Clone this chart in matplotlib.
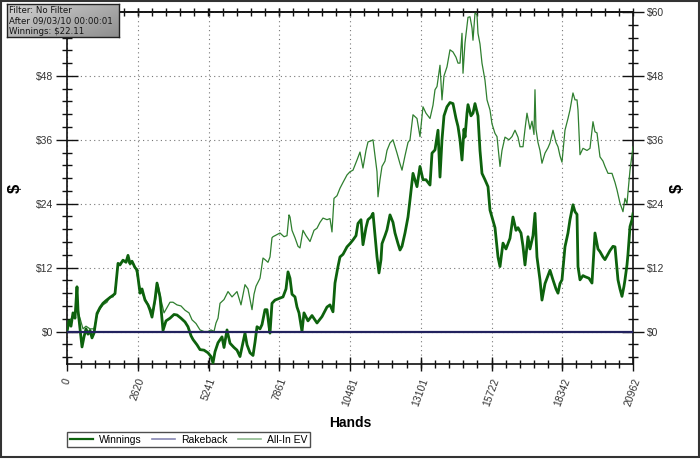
import numpy as np
import matplotlib
matplotlib.use("Agg")
import matplotlib.pyplot as plt
from matplotlib.ticker import FixedLocator, MultipleLocator, FuncFormatter, NullFormatter
from matplotlib.lines import Line2D
from matplotlib.patches import Rectangle
from matplotlib.colors import LinearSegmentedColormap

plt.rcParams['font.family'] = ['Liberation Sans', 'DejaVu Sans']

# ---------------- data ----------------
x_ticks = [0, 2620, 5241, 7861, 10481, 13101, 15722, 18342, 20962]
y_ticks = [0, 12, 24, 36, 48, 60]

win_hands = [0, 74, 148, 222, 296, 370, 407, 481, 556, 630, 704, 778, 852, 926, 1000,
             1111, 1222, 1333, 1444, 1593, 1704, 1778, 1889, 1963, 2074, 2185, 2259, 2333,
             2407, 2519, 2593, 2704, 2778, 2889, 3000, 3074, 3148, 3259, 3333, 3444, 3556,
             3667, 3815, 3963, 4074, 4222, 4370, 4481, 4593, 4667, 4815, 4926, 5074, 5222,
             5333, 5407, 5481, 5593, 5741, 5815, 5926, 6037, 6185, 6296, 6407, 6518, 6592,
             6667, 6778, 6889, 6963, 7037, 7148, 7222, 7333, 7407, 7481, 7518, 7592, 7703,
             7851, 8000, 8111, 8185, 8259, 8333, 8444, 8518, 8592, 8703, 8777, 8925, 9074,
             9259, 9444, 9629, 9740, 9851, 9925, 10036, 10110, 10222, 10370, 10481, 10592,
             10703, 10777, 10888, 10962, 11073, 11147, 11259, 11333, 11407, 11481, 11555,
             11629, 11666, 11777, 11851, 11962, 12073, 12147, 12259, 12333, 12407, 12518,
             12629, 12703, 12814, 12962, 13073, 13184, 13295, 13444, 13518, 13629, 13740,
             13814, 13888, 13962, 14073, 14184, 14295, 14407, 14481, 14555, 14629, 14703,
             14740, 14814, 14851, 14962, 15036, 15110, 15221, 15295, 15369, 15480, 15592,
             15666, 15740, 15851, 15962, 16036, 16147, 16258, 16406, 16517, 16629, 16703,
             16814, 16888, 16962, 17073, 17147, 17258, 17332, 17406, 17517, 17591, 17703,
             17814, 17888, 17999, 18110, 18184, 18258, 18332, 18443, 18554, 18628, 18739,
             18814, 18888, 18925, 18999, 19110, 19184, 19332, 19443, 19554, 19665, 19739,
             19850, 19924, 20036, 20110, 20221, 20295, 20406, 20480, 20554, 20628, 20665,
             20739, 20776, 20851, 20925, 20962]
winnings = [0.0, 2.0, 1.0, 3.5, 2.5, 8.4, 4.0, 0.5, -2.9, -1.0, 0.5, -0.5, 0.2, -1.2, -0.3,
            3.4, 4.5, 5.3, 5.8, 6.4, 6.8, 7.1, 12.8, 12.5, 13.4, 13.0, 14.3, 12.8,
            13.2, 12.0, 11.6, 7.2, 8.0, 5.9, 5.0, 4.0, 2.7, 6.0, 9.1, 6.5, 0.2,
            2.0, 2.5, 3.2, 3.1, 2.5, 1.8, 0.9, -0.8, -1.5, -2.5, -3.4, -3.5, -4.0,
            -4.7, -5.9, -3.8, -2.1, -1.0, -3.0, 0.3, -2.2, -3.0, -3.5, -4.7, -2.0, -0.3,
            -2.5, -4.0, -4.5, -2.0, 0.9, 0.5, 1.3, 4.1, 4.1, 1.0, -0.3, 5.3, 5.9,
            6.2, 6.5, 8.0, 11.2, 10.0, 7.0, 6.5, 4.6, 3.5, 0.0, 3.5, 2.0, 3.0,
            1.6, 2.8, 4.6, 5.0, 3.7, 9.1, 12.2, 14.0, 14.5, 15.9, 16.5, 17.2,
            18.0, 20.3, 21.0, 16.3, 19.5, 21.0, 21.5, 22.2, 18.0, 14.0, 11.0,
            13.5, 16.5, 18.0, 19.1, 21.9, 20.5, 18.5, 16.5, 15.3, 16.0, 18.5,
            21.5, 24.7, 29.7, 27.2, 31.0, 28.5, 28.5, 27.5, 33.5, 34.1, 37.8,
            29.0, 36.0, 40.5, 42.2, 43.0, 42.8, 40.0, 38.5, 36.0, 32.2, 38.0,
            36.5, 41.0, 42.6, 40.5, 41.0, 42.8, 40.5, 34.0, 29.7, 28.5, 27.2,
            22.8, 21.5, 19.5, 14.0, 12.2, 16.6, 15.5, 17.5, 21.5, 19.0, 19.5,
            18.5, 16.0, 12.5, 17.8, 15.5, 18.0, 22.2, 14.0, 9.7, 5.9, 9.0,
            10.5, 11.5, 9.7, 8.0, 7.2, 9.0, 9.7, 15.9, 18.5, 21.0, 23.8,
            22.5, 22.0, 12.2, 9.7, 10.5, 10.3, 10.0, 9.1, 18.5, 15.5, 15.0,
            14.0, 13.5, 14.5, 15.2, 16.0, 15.9, 9.7, 8.0, 6.6, 8.5, 9.7,
            12.5, 14.5, 19.7, 21.0, 22.11]

ev_hands = [0, 111, 222, 333, 407, 481, 593, 704, 852, 1000, 1111, 1222, 1333, 1481, 1593,
            1704, 1778, 1889, 2000, 2111, 2222, 2333, 2444, 2556, 2667, 2741, 2852, 2963,
            3074, 3185, 3296, 3370, 3481, 3593, 3704, 3815, 3926, 4074, 4222, 4370, 4518,
            4630, 4778, 4926, 5074, 5222, 5333, 5444, 5518, 5593, 5667, 5815, 5963, 6111,
            6296, 6444, 6592, 6703, 6778, 6852, 6926, 7000, 7148, 7259, 7333, 7444, 7518,
            7592, 7629, 7777, 7888, 8037, 8148, 8222, 8259, 8333, 8444, 8555, 8629, 8740,
            8851, 9000, 9148, 9259, 9370, 9481, 9629, 9740, 9814, 9888, 10000, 10110, 10222,
            10370, 10481, 10592, 10740, 10851, 10962, 11073, 11147, 11259, 11333, 11407,
            11481, 11518, 11592, 11666, 11777, 11851, 11962, 12073, 12222, 12333, 12407,
            12518, 12629, 12703, 12814, 12962, 13073, 13184, 13295, 13444, 13555, 13629,
            13703, 13814, 13888, 13962, 14073, 14184, 14295, 14407, 14481, 14555, 14629,
            14666, 14740, 14851, 14925, 15000, 15036, 15110, 15184, 15221, 15295, 15369,
            15480, 15555, 15666, 15740, 15851, 15925, 16036, 16110, 16221, 16369, 16480,
            16592, 16703, 16777, 16888, 16962, 17036, 17147, 17221, 17295, 17332, 17369,
            17443, 17517, 17591, 17703, 17814, 17888, 17999, 18110, 18184, 18258, 18332,
            18443, 18554, 18628, 18739, 18814, 18888, 18925, 18999, 19110, 19258, 19369,
            19480, 19554, 19628, 19739, 19850, 19924, 20036, 20184, 20295, 20369, 20480,
            20591, 20665, 20739, 20851, 20962]
all_in_ev = [0.0, 2.0, 3.0, 4.0, 3.5, 2.5, 0.5, 1.0, 0.5, 0.5, 3.0, 4.2, 5.0, 5.5, 6.5,
             6.5, 7.5, 12.5, 13.0, 13.2, 13.5, 12.5, 13.0, 11.5, 9.0, 7.5, 6.5, 5.5,
             4.5, 3.5, 6.5, 8.8, 6.0, 3.5, 4.5, 5.5, 5.5, 5.0, 4.8, 4.0, 3.5,
             2.2, 1.5, 0.3, 0.0, 0.0, 0.3, 0.0, 1.6, 2.5, 5.3, 6.0, 7.5, 6.5,
             7.5, 5.0, 8.8, 8.0, 6.0, 4.1, 7.0, 8.5, 10.0, 13.8, 13.5, 13.0, 14.0,
             17.6, 17.8, 18.2, 18.5, 17.8, 18.0, 21.9, 21.5, 19.0, 17.6, 16.0, 15.7, 19.0,
             18.0, 16.9, 19.0, 19.4, 20.5, 21.3, 21.0, 21.2, 18.7, 25.0, 25.5, 26.9, 28.0,
             29.4, 30.0, 30.3, 32.2, 33.7, 30.7, 34.0, 35.6, 35.8, 36.0, 33.0,
             30.0, 25.3, 28.5, 31.0, 32.0, 34.0, 35.4, 36.0, 33.5, 31.5, 30.3,
             33.0, 35.5, 36.0, 40.7, 40.0, 36.6, 42.2, 41.0, 40.0, 42.5, 45.4,
             46.0, 50.0, 43.5, 48.0, 49.7, 52.9, 52.5, 51.5, 50.4, 50.4, 56.0,
             48.5, 54.2, 59.0, 59.1, 57.0, 54.7, 59.8, 59.5, 56.0, 54.0, 50.4,
             47.2, 43.5, 41.6, 39.0, 37.2, 36.6, 31.0, 34.0, 36.5, 36.0, 36.6,
             37.8, 36.5, 34.7, 34.7, 38.0, 41.0, 38.0, 39.5, 37.0, 45.4, 38.0,
             35.5, 34.0, 31.6, 33.5, 34.5, 35.4, 37.8, 35.5, 34.7, 33.0, 31.8,
             37.8, 40.0, 41.6, 44.8, 43.5, 43.5, 41.6, 33.2, 34.4, 34.0, 34.4,
             39.4, 37.5, 37.3, 32.8, 32.0, 31.0, 29.7, 29.7, 28.0, 26.6, 24.1,
             22.5, 25.0, 24.0, 30.3, 34.7]

rake_hands = [0, 20962]
rakeback = [0.0, 0.0]

info_lines = ["Filter: No Filter", "After 09/03/10 00:00:01", "Winnings: $22.11"]
series_names = ["Winnings", "Rakeback", "All-In EV"]

# ---------------- figure ----------------
W, H = 700, 459
fig = plt.figure(figsize=(W / 100, H / 100), dpi=100, facecolor='white')
ax = fig.add_axes([67 / W, 1 - 364 / H, 566 / W, 352 / H])

win_color = '#0d620d'
ev_color = '#2f7f2f'
rake_color = '#22225e'

ax.plot(ev_hands, all_in_ev, color=ev_color, lw=0.9, zorder=3)
ax.plot(win_hands, winnings, color=win_color, lw=2.0, zorder=4)
ax.plot(rake_hands, rakeback, color=rake_color, lw=1.6, zorder=5)

ax.set_xlim(0, 20962)
ax.set_ylim(-6.1, 60)

ax.xaxis.set_major_locator(FixedLocator(x_ticks))
ax.xaxis.set_minor_locator(MultipleLocator(20962 / 40))
ax.yaxis.set_major_locator(FixedLocator(y_ticks))
ax.yaxis.set_minor_locator(MultipleLocator(2.4))
ax.yaxis.set_major_formatter(FuncFormatter(lambda v, p: f"${v:.0f}"))
ax.set_xticklabels([str(t) for t in x_ticks], rotation=70, ha='center', va='top',
                   fontsize=7.5, color='#333333')

ax.tick_params(axis='y', which='major', direction='inout', length=16, width=1,
               color='#111111', labelsize=7.5, labelcolor='#333333', pad=2)
ax.tick_params(axis='y', which='minor', direction='inout', length=7, width=1,
               color='#111111')
ax.tick_params(axis='x', which='major', direction='inout', length=10, width=1,
               color='#111111', labelsize=7.5, labelcolor='#333333', pad=4)
ax.tick_params(axis='x', which='minor', direction='inout', length=6, width=1,
               color='#111111')
ax.tick_params(axis='y', which='both', left=True, right=True, labelleft=True, labelright=True)
ax.tick_params(axis='x', which='both', bottom=True, top=False)

# top axis: short ticks only
top = ax.secondary_xaxis('top')
top.xaxis.set_major_locator(FixedLocator(x_ticks))
top.xaxis.set_minor_locator(MultipleLocator(20962 / 40))
top.xaxis.set_major_formatter(NullFormatter())
top.tick_params(axis='x', which='both', direction='inout', length=6, width=1,
                color='#111111')
top.spines['top'].set_linewidth(1.2)
top.spines['top'].set_color('#111111')

# hide the left $60 label (covered by the info box in the original)
fig.canvas.draw()
for tk in ax.yaxis.get_major_ticks():
    if abs(tk.get_loc() - 60) < 1e-6:
        tk.label1.set_visible(False)

for s in ax.spines.values():
    s.set_color('#111111')
    s.set_linewidth(1.2)

ax.grid(True, which='major', linestyle=(0, (1, 3)), color='#777777', lw=0.8)

ax.set_xlabel('Hands', fontsize=10, fontweight='bold', labelpad=6)
fig.text(15 / W, 1 - 188 / H, '$', rotation=90, fontsize=12, fontweight='bold',
         ha='center', va='center')
fig.text(677 / W, 1 - 188 / H, '$', rotation=90, fontsize=12, fontweight='bold',
         ha='center', va='center')

# legend
handles = [Line2D([], [], color=win_color, lw=1.6),
           Line2D([], [], color='#8888b4', lw=1.2),
           Line2D([], [], color='#8fba8f', lw=1.2)]
leg = fig.legend(handles, series_names, loc='upper left',
                 bbox_to_anchor=(67 / W, 1 - 432 / H), ncol=3, fontsize=7.5,
                 frameon=True, fancybox=False, edgecolor='#222222', borderpad=0.25,
                 handlelength=2.2, handletextpad=0.6, columnspacing=1.0, borderaxespad=0)
leg.get_frame().set_linewidth(1.0)

# info box with gradient
bax = fig.add_axes([7 / W, 1 - 37 / H, 112 / W, 33 / H], zorder=10)
gx, gy = np.meshgrid(np.linspace(0, 1, 64), np.linspace(0, 1, 32))
grad = 0.6 * gx + 0.4 * gy
box_cmap = LinearSegmentedColormap.from_list('box', ['#d2d2d2', '#8e8e8e'])
bax.imshow(grad, cmap=box_cmap, vmin=0, vmax=1, aspect='auto',
           extent=[0, 1, 0, 1], origin='upper')
bax.set_xlim(0, 1)
bax.set_ylim(0, 1)
bax.set_xticks([])
bax.set_yticks([])
for s in bax.spines.values():
    s.set_color('#222222')
    s.set_linewidth(1.0)
for i, t in enumerate(info_lines):
    bax.text(0.02, 0.81 - i * 0.32, t, fontsize=6.2, family='DejaVu Sans',
             color='#151515', va='center', ha='left', transform=bax.transAxes)

# figure border
fig.patches.append(Rectangle((0.5 / W, 2 / H), (W - 2) / W, (H - 2.5) / H,
                             transform=fig.transFigure, fill=False,
                             edgecolor='#333333', lw=1.5))

fig.savefig('out.png', dpi=100, facecolor='white')
